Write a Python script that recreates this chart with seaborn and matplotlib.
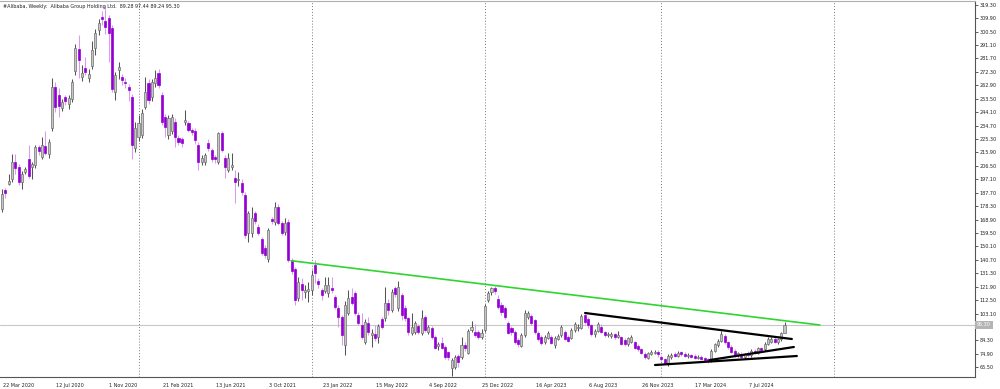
import numpy as np
import pandas as pd
import matplotlib
matplotlib.use("Agg")
import matplotlib.pyplot as plt
import matplotlib.transforms as mtransforms
import seaborn as sns

# ---------------- data (weekly OHLC, #Alibaba) ----------------
start_date = "2020-03-22"

opens = [
    176, 189.5, 194, 197, 209, 206, 195, 202.5, 211, 206,
    207, 219.5, 213, 220.5, 215, 233, 261.5, 256, 247, 254.5,
    250, 253.5, 273, 288, 269, 275, 268, 276.5, 289, 301.5,
    311, 308, 310, 303, 258, 273.5, 268.5, 265, 261.5, 255,
    219, 227, 228, 248, 264.5, 254.5, 264.5, 271.5, 256, 240.5,
    228, 231, 237, 226, 225.5, 237, 236.5, 231.5, 231, 221,
    209, 209.5, 222.5, 217.5, 213, 209.5, 229.5, 212, 203.5, 205.5,
    198, 196.5, 194.5, 186, 159.5, 159.5, 173.5, 164, 155, 149,
    141, 169, 167, 177.5, 166.5, 160, 167, 140.5, 134, 114,
    124, 118, 119, 119.5, 137, 126, 119.5, 119, 117.5, 121,
    114.5, 107, 100.5, 81, 103.5, 114.5, 117.5, 102, 95, 83,
    96.5, 88, 89, 86.5, 99.5, 100, 110.5, 105.5, 121, 107,
    116, 107, 100, 89.5, 90, 94.5, 89.5, 100.5, 90, 93,
    86.5, 80.5, 82.5, 79.5, 76, 65, 65.5, 73.5, 72.5, 81,
    75.5, 91.5, 90, 90, 86.5, 91.5, 112.5, 118, 121, 113.5,
    109, 107, 96.5, 93, 90, 84.5, 80.5, 88, 100.5, 101.5,
    98.5, 89.5, 86.5, 83, 86, 86.5, 81, 85.5, 88, 90,
    86.5, 86, 91.5, 93, 93, 102, 99, 95, 88.5, 91,
    94, 90, 88, 87.5, 88.5, 86.5, 86.5, 84.5, 81.5, 83,
    83, 80.5, 78, 75, 72, 75, 75.5, 76.5, 73, 71,
    68.5, 73, 74.5, 73.5, 76, 75, 73.5, 74, 73.5, 72,
    73, 72, 71, 70, 77, 81, 84, 87.5, 83, 80,
    77, 74, 75, 72.5, 75.5, 74, 77, 75.5, 79, 78,
    82, 83.5, 85.5, 83, 85, 89.28,
]
highs = [
    190, 191, 201, 215, 215, 208, 203, 206, 221, 209,
    221, 221, 227, 231, 225, 268, 265, 261, 253, 256,
    256, 267, 292, 298, 277, 283, 274, 294, 302, 309,
    315, 319.3, 312, 305, 272, 279, 271, 268, 264, 257,
    237, 242, 246, 268.5, 267, 267, 273.5, 274, 258, 243,
    242, 243, 240, 228, 227, 245.5, 238, 233, 233, 223,
    214, 215.5, 225, 219, 214, 230.5, 231, 214, 215.5, 215.5,
    203.5, 202, 197, 188, 175, 177.5, 175, 166, 157, 151,
    163, 171, 181, 180, 168, 170, 169, 142, 136, 128.5,
    128, 123, 125, 133.5, 140.5, 128, 121, 128.5, 128.5, 128.5,
    116, 109, 102, 112, 119.5, 121, 119, 104, 103.5, 99,
    100.5, 92, 95, 96, 101, 121.5, 113, 120, 122.5, 126,
    117.5, 109, 101, 103.5, 98, 96, 105.5, 102, 95, 94.5,
    88, 83, 86.5, 81, 77, 72, 74, 75, 86.5, 83,
    92.5, 98, 95.5, 91.5, 92.5, 110, 119, 122, 122.5, 116,
    111, 108.5, 98, 94.5, 91.5, 86, 89.5, 105.5, 105, 103,
    99.5, 91, 88, 88, 91, 88, 87.5, 89, 95, 91.5,
    88, 93, 97, 96, 103, 103.5, 101, 96, 92.5, 97,
    96, 91, 90.5, 90, 89.5, 91, 87.5, 86, 87, 88,
    84, 81.5, 79, 76, 76.5, 77.5, 77.5, 77.5, 74, 72,
    74.5, 75.5, 76, 77, 77, 76, 75.5, 75, 74.5, 74,
    74, 73, 72, 78, 82.5, 85.5, 91, 88.5, 84, 81,
    78, 76.5, 76, 75.5, 77, 78, 78, 80, 80, 83,
    86.5, 87, 86.5, 86, 90, 97.44,
]
lows = [
    174, 184, 193, 195, 201, 193, 190, 201, 198, 197,
    205, 214, 211, 214, 212, 231, 244, 241, 245, 249,
    246, 251, 270, 268, 266, 270, 265, 274, 284, 298,
    305, 299, 279.5, 258, 252.5, 267, 263, 261, 252, 211,
    216, 224, 226, 246, 250, 252, 262, 261, 235, 227,
    225, 229, 220, 221, 220, 235, 230, 228, 222, 203.5,
    207, 207, 217, 209, 208.5, 208, 216, 198, 202, 203.5,
    180.5, 192.5, 186, 156, 153, 157, 166, 158, 144, 142,
    139, 166, 165, 165, 158, 158, 139, 131, 109, 112,
    112.5, 114, 111, 116, 124.5, 121, 112.5, 117.5, 114.5, 117.5,
    106, 93.5, 81, 74, 102, 109, 102, 95, 85, 82,
    88, 79.5, 84, 82.5, 92, 98, 102, 104, 115, 105,
    98.5, 98, 88, 88, 89, 89, 88, 90, 89, 85.5,
    78, 77.5, 78, 71.5, 70.5, 59.4, 64, 65.5, 71, 77,
    75, 90, 86.5, 85, 85.5, 90, 111, 116, 117, 106,
    102, 99, 88.5, 88, 82, 80, 79.5, 87, 99, 95,
    89, 84, 81, 82, 85, 81.5, 79, 84.5, 87, 84.5,
    83, 85, 90.5, 91, 92, 96, 93, 87.5, 87, 90,
    89.5, 87, 86.5, 86, 85.5, 86, 81, 80.5, 80.5, 82.5,
    78, 77, 74.5, 71.5, 71, 74, 74.5, 73, 70, 67.5,
    66.6, 71.5, 72.5, 72.5, 73.5, 72.5, 72, 72, 71, 71,
    70.5, 69.5, 68.5, 69.5, 76, 80, 83, 82, 78.5, 75.5,
    73, 73, 71.5, 71.5, 73, 73, 74.5, 74.5, 76, 77,
    81, 82.5, 82.5, 81.5, 84, 89.24,
]
closes = [
    187, 187.5, 196, 209, 205, 195, 201, 204, 199.5, 208,
    219.5, 217, 221, 215.5, 223, 261.5, 248, 248.5, 251, 252,
    254, 265, 289, 280.5, 271.5, 272, 271, 287.5, 299.5, 306.5,
    309, 304, 299.5, 260.5, 270, 275.5, 266.5, 264.5, 259.5, 221,
    233, 236.5, 243.5, 258, 252.5, 265, 268, 263, 237, 233.5,
    240, 240.5, 227, 223, 222.5, 238.5, 231.5, 230, 224.5, 209,
    212, 214, 219, 211.5, 211, 229.5, 217.5, 205.5, 212, 207,
    195, 197.5, 188, 158, 173.5, 170, 168, 159.5, 145.5, 144,
    161.5, 168, 177.5, 166.5, 159.5, 166.5, 140.5, 133, 112.5, 125,
    119.5, 119.5, 120, 130, 131.5, 124, 116, 123, 123, 119.5,
    107.5, 100.5, 88, 109, 114, 110.5, 103.5, 96.5, 86.5, 97,
    90, 89.5, 86, 94.5, 93.5, 110.5, 105.5, 118.5, 117, 121.5,
    102, 100, 90, 93.5, 96.5, 90, 100, 91.5, 93.5, 86.5,
    79, 81.5, 79, 72.5, 72.5, 70.5, 72.5, 69, 81, 79,
    91, 93.5, 88, 86.5, 89.5, 108.5, 117.5, 121, 119, 107.5,
    104, 100.5, 89.5, 90, 83, 82, 88, 103.5, 103.5, 96.5,
    90, 85.5, 82.5, 86.5, 89.5, 82.5, 86, 87.5, 93.5, 85.5,
    84, 91.5, 95.5, 94, 101.5, 97.5, 95, 88.5, 91, 95.5,
    90, 88, 89, 88.5, 86.5, 88, 82, 81.5, 86, 86.5,
    79, 78, 75.5, 72.5, 75.5, 76.5, 76.5, 75, 71, 68.5,
    73.5, 74, 73.5, 75.5, 74.5, 73.5, 74, 73, 72, 73,
    71.5, 70.5, 69.8, 77, 81.5, 84, 89, 83, 79.5, 76.5,
    74, 75.5, 72.5, 74.5, 74, 77, 75.5, 79, 77.5, 82,
    85, 85.5, 83.5, 85, 89.2, 95.30,
]

# trend lines (week index, price)
green_x = [86.8, 245.6]
green_y = [140.1, 95.1]
upper_x = [175.1, 237.2]
upper_y = [103.5, 85.3]
mid_x = [212.6, 237.8]
mid_y = [70.6, 79.7]
lower_x = [196.1, 238.7]
lower_y = [67.1, 73.4]

date_labels = ["22 Mar 2020", "12 Jul 2020", "1 Nov 2020", "21 Feb 2021",
               "13 Jun 2021", "3 Oct 2021", "23 Jan 2022", "15 May 2022",
               "4 Sep 2022", "25 Dec 2022", "16 Apr 2023", "6 Aug 2023",
               "26 Nov 2023", "17 Mar 2024", "7 Jul 2024"]
price_labels = ["319.30", "309.90", "300.50", "291.10", "281.70", "272.30",
                "262.90", "253.50", "244.10", "234.70", "225.30", "215.90",
                "206.50", "197.10", "187.70", "178.30", "168.90", "159.50",
                "150.10", "140.70", "131.30", "121.90", "112.50", "103.10",
                "93.70", "84.30", "74.90", "65.50"]
title_text = "#Alibaba, Weekly:  Alibaba Group Holding Ltd.  89.28 97.44 89.24 95.30"
last_price = 95.30

# ---------------- frame ----------------
df = pd.DataFrame({"open": opens, "high": highs, "low": lows, "close": closes})
df["idx"] = np.arange(len(df))
start = pd.Timestamp(start_date)
calendar = pd.date_range(start, periods=300, freq="7D")

sns.set_style("white")
plt.rcParams["font.family"] = ["DejaVu Sans"]

W, H = 1000, 389
FS = 3.5
fig = plt.figure(figsize=(W / 100, H / 100), dpi=100)
ax = fig.add_axes([0.0, 12 / H, 975 / W, 376 / H])

# year separators (first weekly bar of each new year)
years = calendar.year
sep_idx = [i for i in range(1, len(calendar)) if years[i] != years[i - 1]]
for s in sep_idx:
    ax.axvline(s, color="#7a7a7a", lw=0.7, ls=(0, (1, 2)), zorder=1)

# bid line
ax.axhline(last_price, color="#c8c8c8", lw=0.8, zorder=1)

bull = df["close"] >= df["open"]
bear = ~bull
ax.vlines(df["idx"][bull], df["low"][bull], df["high"][bull],
          color="#555555", lw=0.75, zorder=2)
ax.vlines(df["idx"][bear], df["low"][bear], df["high"][bear],
          color="#d99af2", lw=0.75, zorder=2)
ax.bar(df["idx"][bull], (df["close"] - df["open"])[bull].clip(lower=0.4),
       bottom=df["open"][bull], width=0.62, color="#c6c6c6",
       edgecolor="#707070", linewidth=0.5, zorder=3)
ax.bar(df["idx"][bear], (df["open"] - df["close"])[bear].clip(lower=0.4),
       bottom=df["close"][bear], width=0.62, color="#9400d3",
       edgecolor="#9400d3", linewidth=0.5, zorder=3)

# trend lines
sns.lineplot(x=green_x, y=green_y, ax=ax, color="#2fd52f", lw=1.2, zorder=4)
for lx, ly in [(upper_x, upper_y), (mid_x, mid_y), (lower_x, lower_y)]:
    sns.lineplot(x=lx, y=ly, ax=ax, color="black", lw=1.6, zorder=4)

# axes limits
ax.set_xlim(-0.6, 292.2)
ax.set_ylim(58.7, 321.9)

# x ticks
xt = [(pd.Timestamp(d) - start).days / 7 for d in date_labels]
ax.set_xticks(xt)
ax.set_xticklabels(date_labels, fontsize=FS, color="#222222")
for lab in ax.get_xticklabels():
    lab.set_ha("left")
ax.tick_params(axis="x", direction="out", length=2.5, width=0.6,
               color="#444444", pad=1.5)
offset = mtransforms.ScaledTranslation(0.6 / 72, 0, fig.dpi_scale_trans)
for lab in ax.get_xticklabels():
    lab.set_transform(lab.get_transform() + offset)

# y ticks on the right
yt = [float(p) for p in price_labels]
ax.yaxis.tick_right()
ax.set_yticks(yt)
ax.set_yticklabels(price_labels, fontsize=FS, color="#222222")
ax.tick_params(axis="y", direction="out", length=2.0, width=0.6,
               color="#444444", pad=1.0)

ax.spines["left"].set_visible(False)
ax.spines["top"].set_color("#b0b0b0")
ax.spines["top"].set_linewidth(0.8)
ax.spines["right"].set_color("#555555")
ax.spines["right"].set_linewidth(0.8)
ax.spines["bottom"].set_color("#555555")
ax.spines["bottom"].set_linewidth(0.8)
ax.set_xlabel("")
ax.set_ylabel("")
if ax.get_legend() is not None:
    ax.get_legend().remove()

# current price box on the axis
trans = mtransforms.blended_transform_factory(ax.transAxes, ax.transData)
ax.text(1.002, last_price, f"{last_price:.2f}", transform=trans, fontsize=FS,
        color="white", va="center", ha="left", clip_on=False, zorder=6,
        bbox=dict(boxstyle="square,pad=0.35", fc="#b4b4b4", ec="none"))

# title
ax.text(0.003, 0.992, title_text, transform=ax.transAxes, fontsize=FS,
        color="#222222", va="top", ha="left", zorder=6)

fig.savefig("out.png", dpi=100)
